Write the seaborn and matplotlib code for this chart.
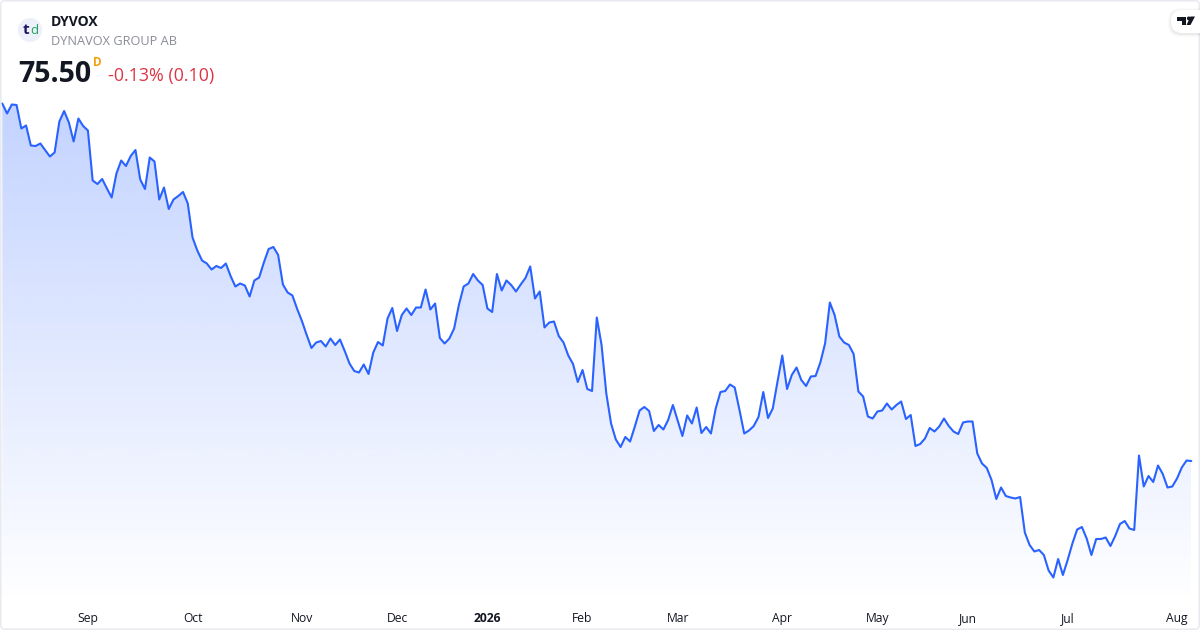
import numpy as np
import pandas as pd
import seaborn as sns
import matplotlib.pyplot as plt
from matplotlib.patches import Circle, FancyBboxPatch, Polygon

### DATA ###
close_aug_oct = [147.0, 145.0, 146.8, 146.7, 142.0, 142.6, 138.6, 138.5, 139.0, 137.7, 136.4, 137.2, 143.4, 145.5,
                 143.2, 139.4, 144.0, 142.5, 141.6, 131.6, 130.9, 131.9, 130.0, 128.2, 133.0, 135.6, 134.5, 136.5,
                 137.7, 131.8, 129.9, 136.2, 135.4, 127.8, 130.2, 125.9, 127.8, 128.5, 129.3, 127.0, 120.2, 117.6,
                 115.6, 115.0, 113.8, 114.5, 114.1, 115.0, 112.5, 110.4, 111.0, 110.6, 108.4, 111.6, 112.2, 115.2,
                 117.9, 118.3, 116.7, 110.8, 109.2, 108.6]
close_nov_feb = [105.9, 103.5, 100.7, 98.1, 99.2, 99.5, 98.4, 100.0, 98.7, 99.8, 97.5, 95.0, 93.5, 93.2, 94.8, 92.9,
                 97.2, 99.3, 98.6, 104.0, 106.1, 101.5, 104.7, 106.0, 104.7, 106.2, 106.2, 109.8, 105.8, 107.0,
                 100.1, 99.0, 100.0, 102.0, 106.7, 110.4, 111.0, 112.9, 111.6, 110.7, 106.0, 105.3, 112.9, 109.6,
                 111.6, 110.7, 109.4, 110.8, 112.1, 114.4, 108.0, 109.4, 102.2, 103.2, 103.4, 100.5, 99.2, 96.6,
                 94.9, 91.3, 93.7, 89.9, 89.5, 104.2]
close_feb_may = [98.7, 89.0, 83.0, 79.8, 78.3, 80.3, 79.4, 82.4, 85.6, 86.3, 85.5, 81.5, 82.7, 81.8, 83.7, 86.7,
                 83.6, 80.5, 84.6, 83.0, 86.2, 81.1, 82.3, 81.0, 86.0, 89.3, 89.5, 90.8, 90.2, 85.7, 81.0, 81.6,
                 82.5, 84.3, 89.3, 84.1, 86.0, 91.4, 96.6, 89.9, 92.7, 94.2, 91.7, 90.5, 92.4, 92.5, 95.2, 99.0,
                 107.2, 104.7, 100.4, 99.2, 98.7, 96.9, 89.4, 88.4, 84.4, 84.0, 85.4, 85.6, 87.0, 85.8, 86.7]
close_may_aug = [87.4, 83.9, 84.7, 78.5, 78.9, 80.0, 82.1, 81.4, 82.4, 84.0, 82.5, 81.4, 80.9, 83.2, 83.4, 83.4,
                 77.0, 75.0, 74.1, 71.7, 67.9, 70.2, 68.5, 68.2, 68.0, 68.3, 61.2, 58.7, 57.4, 57.7, 56.7, 53.6,
                 52.2, 55.9, 52.7, 55.7, 59.0, 61.8, 62.3, 60.0, 56.7, 59.9, 59.9, 60.2, 58.5, 60.5, 62.9, 63.5,
                 62.0, 61.7, 76.6, 70.4, 72.5, 71.3, 74.6, 72.9, 70.2, 70.4, 72.0, 74.2, 75.6, 75.5]

month_labels = ['Sep', 'Oct', 'Nov', 'Dec', '2026', 'Feb', 'Mar', 'Apr', 'May', 'Jun', 'Jul', 'Aug']
month_index = [18, 40, 63, 83, 102, 122, 142, 164, 184, 203, 224, 247]

close = close_aug_oct + close_nov_feb + close_feb_may + close_may_aug
df = pd.DataFrame({'bar': range(len(close)), 'close': close})

### PLOT ###
sns.set_theme(style='white')
plt.rcParams['font.family'] = ['Open Sans', 'DejaVu Sans']

W, H = 1200, 630
LINE = '#2962FF'
STEP = 4.756  # px per bar

fig = plt.figure(figsize=(W / 100, H / 100), dpi=100, facecolor='white')
ax = fig.add_axes([0, 25 / H, 1, 605 / H])
ax.patch.set_alpha(0)

sns.lineplot(data=df, x='bar', y='close', color=LINE, linewidth=1.5, estimator=None, ax=ax, zorder=3)

x0 = -2.3 / STEP
x1 = x0 + W / STEP
y0, y1 = 46.7, 167.7

# gradient under the line, clipped to the area polygon
area = ax.fill_between(df['bar'], df['close'], y0, color='none', linewidth=0)
grad = np.zeros((256, 1, 4))
grad[:, :, :3] = [0x29 / 255, 0x62 / 255, 1.0]
grad[:, :, 3] = np.linspace(0.28, 0.0, 256)[:, None]
img = ax.imshow(grad, extent=[df['bar'].min(), df['bar'].max(), y0, df['close'].max()],
                origin='upper', aspect='auto', zorder=1)
img.set_clip_path(area.get_paths()[0], transform=ax.transData)

ax.set_xlim(x0, x1)
ax.set_ylim(y0, y1)
ax.set_xlabel('')
ax.set_ylabel('')
ax.set_yticks([])
ax.set_xticks(month_index)
ax.set_xticklabels(month_labels, fontsize=8.7, color='#131722')
ax.tick_params(axis='x', length=0, pad=5)
ax.get_xticklabels()[month_labels.index('2026')].set_fontweight('bold')
sns.despine(ax=ax, left=True, bottom=True)

# overlay in pixel coordinates: frame, header, logos
ov = fig.add_axes([0, 0, 1, 1])
ov.set_xlim(0, W)
ov.set_ylim(H, 0)
ov.axis('off')
ov.patch.set_alpha(0)

ov.add_patch(FancyBboxPatch((0.8, 0.8), W - 1.6, H - 1.6, boxstyle='round,pad=0,rounding_size=4',
                            fc='none', ec='#e6e8ee', lw=1.0))

ov.add_patch(Circle((30, 30), 12, fc='#eef0f9', ec='none'))
ov.text(29.6, 30.5, 't', fontsize=11, fontweight='bold', color='#1b1464', ha='right', va='center')
ov.text(29.9, 30.5, 'd', fontsize=9.5, color='#1fa35c', ha='left', va='center')

ov.text(51, 22, 'DYVOX', fontsize=10, fontweight='bold', color='#131722', va='center')
ov.text(51, 41.5, 'DYNAVOX GROUP AB', fontsize=9.2, color='#8a8d96', va='center')
ov.text(18.5, 74, '75.50', fontsize=20.5, fontweight='bold', color='#131722', va='center')
ov.text(93, 62, 'D', fontsize=8.5, fontweight='bold', color='#f59f0a', va='center')
ov.text(108, 76, '-0.13% (0.10)', fontsize=12.9, color='#dc3545', va='center')

# TradingView badge
for i, a in enumerate([0.015, 0.025, 0.04]):
    ov.add_patch(FancyBboxPatch((1168 + i, 8 + i), 42, 29 - 2 * i,
                                boxstyle='round,pad=0,rounding_size=12', fc='black', ec='none', alpha=a))
ov.add_patch(FancyBboxPatch((1171, 10), 40, 23, boxstyle='round,pad=0,rounding_size=11',
                            fc='white', ec='none'))
ov.add_patch(Polygon([(1177, 16.5), (1186, 16.5), (1186, 25), (1181.5, 25), (1181.5, 20.5), (1177, 20.5)],
                     fc='#131722', ec='none'))
ov.add_patch(Circle((1188.8, 18.4), 1.9, fc='#131722', ec='none'))
ov.add_patch(Polygon([(1190.5, 16.5), (1195, 16.5), (1190.5, 25), (1186.5, 25)], fc='#131722', ec='none'))

plt.savefig('out.png', dpi=100)
